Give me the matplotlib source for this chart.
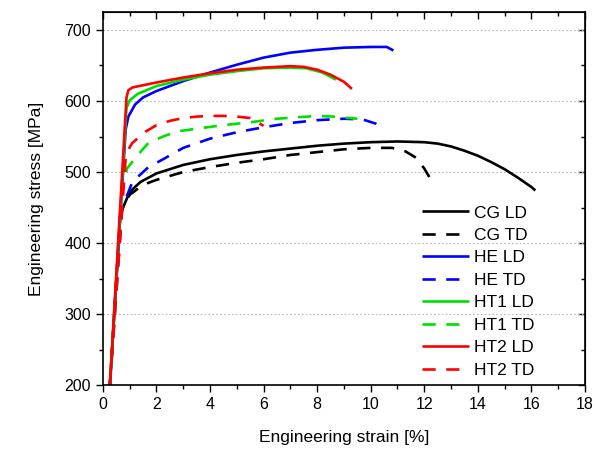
import matplotlib
matplotlib.use("Agg")
import matplotlib.pyplot as plt
from matplotlib.ticker import MultipleLocator

plt.rcParams.update({
    "font.family": ["Liberation Sans", "DejaVu Sans"],
    "font.size": 11,
})

# ---- data (engineering strain [%], engineering stress [MPa]) ----------------

cg_ld_x = [0.26, 0.65, 0.75, 1.0, 1.4, 2.0, 3.0, 4.0, 5.0, 6.0, 7.0, 8.0, 9.0,
           10.0, 11.0, 12.0, 12.5, 13.0, 13.5, 14.0, 14.5, 15.0, 15.5, 16.0,
           16.15]
cg_ld_y = [200, 440, 450, 472, 486, 498, 510, 518, 524, 529, 533, 537, 540,
           542, 543, 542, 540, 536, 530, 523, 514, 504, 492, 479, 474]

cg_td_x = [0.26, 0.65, 0.8, 1.0, 1.5, 2.0, 3.0, 4.0, 5.0, 6.0, 7.0, 8.0, 9.0,
           10.0, 10.8, 11.3, 11.7, 12.0, 12.3]
cg_td_y = [200, 440, 455, 468, 482, 489, 500, 507, 513, 518, 524, 528, 532,
           534, 534, 529, 520, 505, 486]

he_ld_x = [0.26, 0.85, 0.95, 1.2, 1.5, 2.0, 3.0, 4.0, 5.0, 6.0, 7.0, 8.0, 9.0,
           10.0, 10.6, 10.85]
he_ld_y = [200, 560, 578, 595, 605, 614, 628, 640, 651, 661, 668, 672, 675,
           676, 676, 671]

he_td_x = [0.26, 0.72, 0.85, 1.1, 1.7, 2.2, 3.0, 4.0, 5.0, 6.0, 7.0, 8.0, 9.0,
           9.7, 10.2, 10.5]
he_td_y = [200, 450, 462, 486, 507, 517, 534, 547, 556, 563, 569, 573, 575,
           574, 568, 562]

ht1_ld_x = [0.26, 0.88, 1.0, 1.3, 2.0, 3.0, 4.0, 5.0, 6.0, 7.0, 7.6, 8.2, 8.7]
ht1_ld_y = [200, 590, 601, 610, 621, 630, 637, 642, 646, 647, 646, 640, 630]

ht1_td_x = [0.26, 0.75, 0.9, 1.3, 1.7, 2.25, 2.75, 3.5, 4.5, 5.5, 6.5, 8.0,
            8.6, 9.5]
ht1_td_y = [200, 480, 505, 524, 541, 550, 557, 561, 566, 570, 575, 579,
            578, 575]

ht2_ld_x = [0.26, 0.88, 0.95, 1.1, 2.0, 3.0, 4.0, 5.0, 6.0, 7.0, 7.5, 8.0,
            8.5, 9.0, 9.3]
ht2_ld_y = [200, 605, 615, 619, 626, 633, 639, 644, 647, 649, 648, 644,
            637, 627, 617]

ht2_td_x = [0.26, 0.85, 1.0, 1.1, 1.6, 2.0, 2.5, 3.0, 3.5, 4.0, 4.5, 5.0,
            5.5, 6.0]
ht2_td_y = [200, 520, 535, 541, 557, 566, 572, 576, 578, 579, 579, 578,
            576, 565]

series = [
    ("CG LD", cg_ld_x, cg_ld_y, "black", "-"),
    ("CG TD", cg_td_x, cg_td_y, "black", "--"),
    ("HE LD", he_ld_x, he_ld_y, "#0000ff", "-"),
    ("HE TD", he_td_x, he_td_y, "#0000ff", "--"),
    ("HT1 LD", ht1_ld_x, ht1_ld_y, "#00e000", "-"),
    ("HT1 TD", ht1_td_x, ht1_td_y, "#00e000", "--"),
    ("HT2 LD", ht2_ld_x, ht2_ld_y, "#ff0000", "-"),
    ("HT2 TD", ht2_td_x, ht2_td_y, "#ff0000", "--"),
]

fig = plt.figure(figsize=(5.95, 4.5), dpi=100)
ax = fig.add_axes([0.173, 0.144, 0.810, 0.829])

for label, xs, ys, colour, ls in series:
    line, = ax.plot(xs, ys, color=colour, linewidth=1.9, label=label,
                    solid_capstyle="butt")
    if ls == "--":
        line.set_dashes((5, 4))

ax.set_xlim(0, 18)
ax.set_ylim(200, 725)
ax.xaxis.set_major_locator(MultipleLocator(2))
ax.xaxis.set_minor_locator(MultipleLocator(1))
ax.yaxis.set_major_locator(MultipleLocator(100))
ax.yaxis.set_minor_locator(MultipleLocator(50))
ax.set_yticks([200, 300, 400, 500, 600, 700])

ax.tick_params(which="both", direction="out", top=False, right=False,
               labelsize=11.5)
ax.tick_params(which="major", length=5, width=1)
ax.tick_params(which="minor", length=3, width=1)

# inward ticks on top and right (Origin style)
sec_x = ax.secondary_xaxis("top")
sec_x.xaxis.set_major_locator(MultipleLocator(2))
sec_x.xaxis.set_minor_locator(MultipleLocator(1))
sec_x.tick_params(which="both", direction="in", labeltop=False)
sec_x.tick_params(which="major", length=5, width=1)
sec_x.tick_params(which="minor", length=3, width=1)
sec_y = ax.secondary_yaxis("right")
sec_y.yaxis.set_major_locator(MultipleLocator(100))
sec_y.yaxis.set_minor_locator(MultipleLocator(50))
sec_y.tick_params(which="both", direction="in", labelright=False)
sec_y.tick_params(which="major", length=5, width=1)
sec_y.tick_params(which="minor", length=3, width=1)

for side in ax.spines.values():
    side.set_linewidth(1.2)

ax.yaxis.grid(True, which="major", linestyle=(0, (1.5, 2)), color="#b8b8b8",
              linewidth=0.8)
ax.set_axisbelow(True)

ax.set_xlabel("Engineering strain [%]", fontsize=12.5, labelpad=13)
ax.set_ylabel("Engineering stress [MPa]", fontsize=12.5, labelpad=15)

ax.legend(loc="upper left", bbox_to_anchor=(0.663, 0.482), frameon=False,
          fontsize=12.5, handlelength=2.7, handletextpad=0.25,
          labelspacing=0.42, borderpad=0, borderaxespad=0)

fig.savefig("out.png", dpi=100)
